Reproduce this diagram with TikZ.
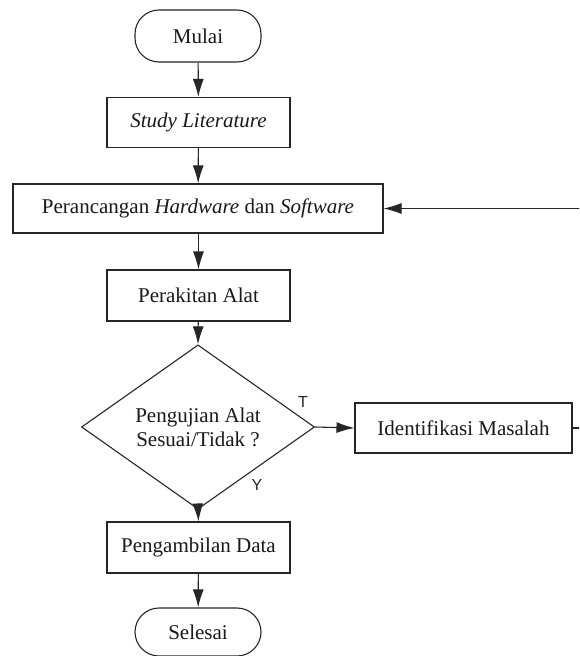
\documentclass[tikz,border=0pt]{standalone}
\usepackage{fontspec}
\setmainfont{Liberation Serif}
\newfontfamily\labelfont{Liberation Sans}
\usetikzlibrary{shapes.geometric,arrows.meta}
\begin{document}
\begin{tikzpicture}[x=1pt,y=-1pt,
  every node/.style={font=\fontsize{21}{24}\selectfont, text=black!90},
  line/.style={draw=black!85, line width=1.1pt},
  arrow/.style={line, -{Latex[length=18pt,width=11pt]}},
  procbox/.style={line, rectangle, inner sep=0pt, minimum height=50pt},
  termbox/.style={line, rectangle, rounded corners=24pt, inner sep=0pt, minimum width=126pt},
  decision/.style={line, diamond, inner sep=0pt, align=center, minimum width=233pt, minimum height=140pt},
  flag/.style={font=\labelfont\fontsize{16}{18}\selectfont, text=black!85}
]
\clip (0,0) rectangle (579,656);
\fill[white] (0,0) rectangle (579,656);

\node[termbox, minimum height=52pt] (mulai) at (198,36) {Mulai};
\node[procbox, minimum width=183pt] (study) at (198.5,122.5) {\itshape Study Literature};
\node[procbox, minimum width=370pt, minimum height=49pt] (peranc) at (198,208.5) {Perancangan \textit{Hardware} dan \textit{Software}};
\node[procbox, minimum width=183pt, minimum height=51pt] (rakit) at (198.5,295.5) {Perakitan Alat};
\node[decision] (uji) at (198,427) {Pengujian Alat\\Sesuai/Tidak ?};
\node[procbox, minimum width=217pt] (ident) at (463.5,428) {Identifikasi Masalah};
\node[procbox, minimum width=183pt, minimum height=51pt] (ambil) at (198.5,547.5) {Pengambilan Data};
\node[termbox, minimum height=48pt] (selesai) at (198,632) {Selesai};

\node[flag] (tlabel) at (303,402) {T};
\node[flag] (ylabel) at (257,485) {Y};

\coordinate (loopA) at (590,428);
\coordinate (loopB) at (590,208.5);

\draw[arrow] (mulai) -- (study);
\draw[arrow] (study) -- (peranc);
\draw[arrow] (peranc.south -| rakit.north) -- (rakit);
\draw[arrow] (rakit) -- (uji.north);
\draw[arrow] (uji.east) -- (ident.west);
\draw[arrow] (uji.south) -- (ambil.north);
\draw[arrow] (ambil) -- (selesai);
\draw[arrow] (ident.east) -- (loopA) -- (loopB) -- (peranc.east);
\end{tikzpicture}
\end{document}
